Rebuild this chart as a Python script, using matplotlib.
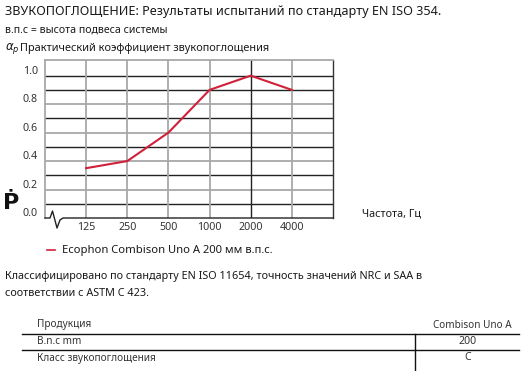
import matplotlib
matplotlib.use("Agg")
import matplotlib.pyplot as plt

plt.rcParams['font.family'] = ['Noto Sans', 'DejaVu Sans']

# ---- data ----
freq_labels = ["125", "250", "500", "1000", "2000", "4000"]
alpha_p = [0.35, 0.40, 0.60, 0.90, 1.00, 0.90]
y_ticks = [0.0, 0.2, 0.4, 0.6, 0.8, 1.0]
series_name = "Ecophon Combison Uno A 200 мм в.п.с."
table_rows = ["Продукция", "B.n.c mm", "Класс звукопоглощения"]
table_vals = ["Combison Uno A", "200", "C"]

W, H = 526, 371
fig = plt.figure(figsize=(W / 100, H / 100), dpi=100)

def P(x, y):
    return (x / W, 1 - y / H)

RED = "#d0203a"
GREY = "#a8a8a8"
DARK = "#222222"

# axes
left, right, top, bottom = 45, 333, 60, 218
ax = fig.add_axes([left / W, 1 - bottom / H, (right - left) / W, (bottom - top) / H])
xs = list(range(len(freq_labels)))
ax.set_xlim(-1, len(freq_labels))
ax.set_ylim(0, 1.11)

# grid
for i in range(1, 11):
    v = i / 10
    col = DARK if (i % 2 == 1 or i == 10) else GREY
    lw = 1.0 if col == DARK else 1.3
    ax.axhline(v, color=col, lw=lw, zorder=1)
for x, lab in zip(xs, freq_labels):
    col = DARK if lab == "2000" else GREY
    lw = 1.0 if col == DARK else 1.3
    ax.axvline(x, color=col, lw=lw, zorder=1)

ax.plot(xs, alpha_p, color=RED, lw=1.5, zorder=3, solid_joinstyle="miter")

for s in ["top", "left"]:
    ax.spines[s].set_color(GREY)
    ax.spines[s].set_linewidth(1.3)
ax.spines["right"].set_color("#333333")
ax.spines["right"].set_linewidth(1.0)
ax.spines["bottom"].set_visible(False)

# bottom line with break symbol (pixel geometry -> axes fraction)
zx = [45, 50, 52.5, 57, 60, 63, right]
zy = [218, 218, 211, 228, 220, 218, 218]
bx = [(x - left) / (right - left) for x in zx]
by = [(bottom - y) / (bottom - top) for y in zy]
ax.plot(bx, by, transform=ax.transAxes, color=DARK, lw=1.0, clip_on=False, zorder=4)

ax.set_xticks([])
ax.set_yticks([])

# tick labels
tick_fs = 7.7
for v in y_ticks:
    ax.text(-0.025, v + 0.03, f"{v:.1f}", transform=ax.get_yaxis_transform(),
            ha="right", va="center", fontsize=tick_fs, color="#333333")
for x, lab in zip(xs, freq_labels):
    ax.text(x, -0.06, lab, transform=ax.get_xaxis_transform(), ha="center",
            va="center", fontsize=tick_fs, color="#333333")

# texts
tc = "#1a1a1a"
fig.text(*P(5, 12), "ЗВУКОПОГЛОЩЕНИЕ: Результаты испытаний по стандарту EN ISO 354.",
         fontsize=9.1, va="center", ha="left", color=tc)
fig.text(*P(5, 30), "в.п.с = высота подвеса системы", fontsize=7.6, va="center", color=tc)
fig.text(*P(5, 49), r"$\alpha_p$", fontsize=8.5, va="center", color=tc)
fig.text(*P(20, 48), "Практический коэффициент звукопоглощения", fontsize=7.9,
         va="center", color=tc)
fig.text(*P(362, 214), "Частота, Гц", fontsize=7.8, va="center", color=tc)

# logo
fig.text(*P(3, 203), "Ṗ", fontsize=16, fontweight="heavy", va="center",
         family="DejaVu Sans", color="#111111")

# legend
fig.add_artist(plt.Line2D([47 / W, 55 / W], [1 - 250 / H, 1 - 250 / H], color=RED, lw=1.2))
fig.text(*P(62, 250), series_name, fontsize=8.1, va="center", color=tc)

fig.text(*P(5, 276), "Классифицировано по стандарту EN ISO 11654, точность значений NRC и SAA в",
         fontsize=7.8, va="center", color=tc)
fig.text(*P(5, 293), "соответствии с ASTM C 423.", fontsize=7.8, va="center", color=tc)

# table
row_y = [325, 342, 358]
for ry, name in zip(row_y, table_rows):
    fig.text(*P(37, ry), name, fontsize=7.2, va="center", color="#333333")
for i, (ry, val) in enumerate(zip(row_y, table_vals)):
    if i == 0:
        fig.text(*P(512, ry), val, fontsize=7.2, va="center", ha="right", color="#333333")
    else:
        fig.text(*P(468, ry), val, fontsize=7.6, va="center", ha="center", color="#333333")
for ly in [334, 350]:
    fig.add_artist(plt.Line2D([22 / W, 519 / W], [1 - ly / H, 1 - ly / H], color="#111111", lw=1.0))
fig.add_artist(plt.Line2D([415 / W, 415 / W], [1 - 334 / H, 0], color="#111111", lw=1.0))

fig.savefig("out.png", dpi=100)
